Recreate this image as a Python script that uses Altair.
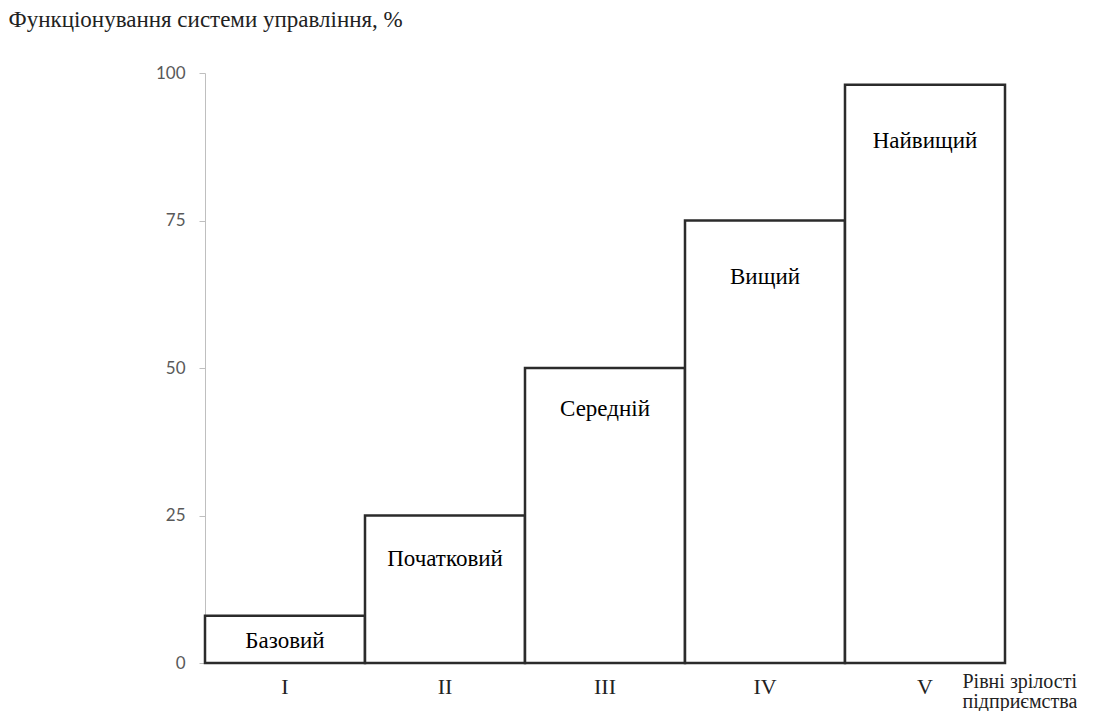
import altair as alt
import pandas as pd

levels = ["I", "II", "III", "IV", "V"]
values = [8, 25, 50, 75, 98]
names = ["Базовий", "Початковий", "Середній", "Вищий", "Найвищий"]
label_y = [3.7, 17.6, 43, 65.4, 88.5]
y_ticks = [0, 25, 50, 75, 100]

df = pd.DataFrame({"level": levels, "value": values, "name": names, "label_y": label_y})

SERIF = "Tinos, Liberation Serif, DejaVu Serif, serif"

x_enc = alt.X(
    "level:N",
    sort=levels,
    scale=alt.Scale(paddingInner=0, paddingOuter=0),
    axis=alt.Axis(
        title=["Рівні зрілості", "підприємства"],
        labelAngle=0,
        ticks=False,
        domain=False,
        labelFont=SERIF,
        labelFontSize=22,
        labelColor="#222222",
        labelPadding=23,
        labelBaseline="middle",
        titleFont=SERIF,
        titleFontSize=20,
        titleFontWeight="normal",
        titleColor="#222222",
        titleX=757,
        titleY=18,
        titleAlign="left",
        titleBaseline="middle",
        titleLineHeight=20,
    ),
)

y_enc = alt.Y(
    "value:Q",
    scale=alt.Scale(domain=[0, 100], nice=False),
    axis=alt.Axis(
        values=y_ticks,
        title="Функціонування системи управління, %",
        titleAngle=0,
        titleX=-197,
        titleY=-54,
        titleAlign="left",
        titleBaseline="middle",
        titleFont=SERIF,
        titleFontSize=23,
        titleFontWeight="normal",
        titleColor="#222222",
        labelFont="Lato",
        labelFontSize=17,
        labelColor="#595959",
        labelPadding=14,
        tickSize=6,
        tickColor="#bfbfbf",
        domainColor="#bfbfbf",
        grid=False,
    ),
)

bars = alt.Chart(df).mark_bar(fill="white", stroke="#2b2b2b", strokeWidth=2.5).encode(
    x=x_enc, y=y_enc
)

labels = alt.Chart(df).mark_text(font=SERIF, fontSize=23, align="center").encode(
    x=alt.X("level:N", sort=levels),
    y=alt.Y("label_y:Q"),
    text="name:N",
)

chart = alt.layer(bars, labels).properties(
    width=800,
    height=590,
    padding=0,
    view=alt.ViewBackground(stroke="transparent"),
).configure(font=SERIF)

chart.save("out.html", embed_options={"renderer": "svg", "actions": False})
